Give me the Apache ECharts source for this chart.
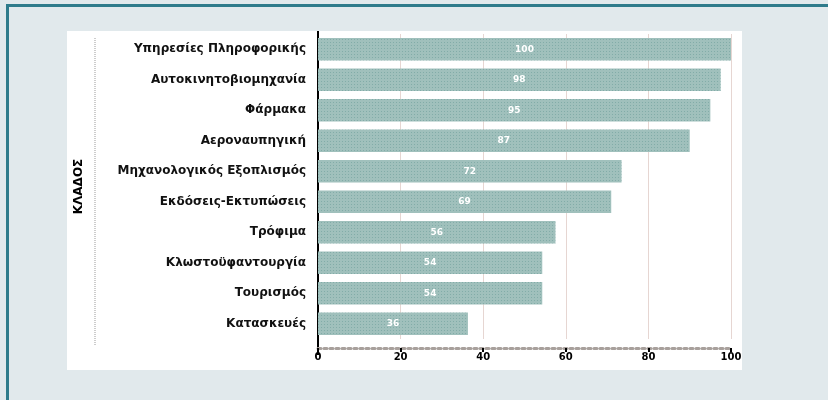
<!DOCTYPE html>
<html>
<head>
<meta charset="utf-8">
<script src="https://cdn.jsdelivr.net/npm/echarts@6/dist/echarts.min.js"></script>
<style>
  html, body { margin: 0; padding: 0; width: 828px; height: 400px; overflow: hidden; background: #e1e9ec; }
  #frame { position: absolute; left: 6px; top: 4px; width: 830px; height: 400px; border-top: 3px solid #2e7b8b; border-left: 3px solid #2e7b8b; background: #e1e9ec; }
  #panel { position: absolute; left: 67px; top: 31px; width: 675px; height: 339px; background: #ffffff; }
  #chart { position: absolute; left: 0; top: 0; width: 828px; height: 400px; }
</style>
</head>
<body>
<div id="frame"></div>
<div id="panel"></div>
<div id="chart"></div>
<script>
// Data (top to bottom as shown)
const categories = [
  'Υπηρεσίες Πληροφορικής',
  'Αυτοκινητοβιομηχανία',
  'Φάρμακα',
  'Αεροναυπηγική',
  'Μηχανολογικός Εξοπλισμός',
  'Εκδόσεις-Εκτυπώσεις',
  'Τρόφιμα',
  'Κλωστοϋφαντουργία',
  'Τουρισμός',
  'Κατασκευές'
];
const barValues = [100, 97.5, 95, 90, 73.5, 71, 57.5, 54.3, 54.3, 36.3];
const barLabels = ['100', '98', '95', '87', '72', '69', '56', '54', '54', '36'];
const xTicks = [0, 20, 40, 60, 80, 100];
const axisTitle = 'ΚΛΑΔΟΣ';

const chart = echarts.init(document.getElementById('chart'), null, { renderer: 'canvas' });
const font = 'DejaVu Sans';
chart.setOption({
  backgroundColor: 'transparent',
  animation: false,
  aria: { enabled: true, label: { enabled: false }, decal: { show: true } },
  grid: { left: 318, right: 97, top: 34, bottom: 61, containLabel: false },
  xAxis: {
    type: 'value', min: 0, max: 100, interval: 20,
    offset: 9,
    axisLine: { show: true, lineStyle: { color: '#a8a09c', width: 3, type: 'dotted' } },
    axisTick: { show: true, length: 4, lineStyle: { color: '#000', width: 2 } },
    axisLabel: {
      color: '#000', fontFamily: font, fontWeight: 'bold', fontSize: 10, margin: 4,
      formatter: v => xTicks.indexOf(v) >= 0 ? String(v) : ''
    },
    splitLine: { show: true, lineStyle: { color: '#e6d6d2', width: 1 } }
  },
  yAxis: {
    type: 'category', inverse: true, data: categories,
    name: axisTitle, nameLocation: 'middle', nameGap: 233, nameRotate: 90,
    nameTextStyle: { color: '#000', fontFamily: font, fontWeight: 'bold', fontSize: 12 },
    axisLine: { show: true, lineStyle: { color: '#000', width: 2 } },
    axisTick: { show: false },
    axisLabel: { color: '#111', fontFamily: font, fontWeight: 'bold', fontSize: 12, margin: 12 }
  },
  series: [{
    type: 'bar',
    data: barValues,
    barCategoryGap: '27%',
    itemStyle: {
      color: '#a0c0bc',
      decal: {
        symbol: 'circle', symbolSize: 0.9, color: 'rgba(60,125,122,0.6)',
        dashArrayX: [[1, 2]], dashArrayY: [1, 2], rotation: 0
      }
    },
    label: {
      show: true, position: 'inside', color: '#ffffff',
      fontFamily: font, fontWeight: 'bold', fontSize: 9,
      formatter: p => barLabels[p.dataIndex]
    }
  }],
  graphic: [{
    type: 'line', silent: true,
    shape: { x1: 95, y1: 38, x2: 95, y2: 346 },
    style: { stroke: '#9a9a9a', lineWidth: 1, lineDash: [1, 1] }
  }, {
    type: 'line', silent: true,
    shape: { x1: 318, y1: 31, x2: 318, y2: 355 },
    style: { stroke: '#000', lineWidth: 2 }
  }]
});
</script>
</body>
</html>
